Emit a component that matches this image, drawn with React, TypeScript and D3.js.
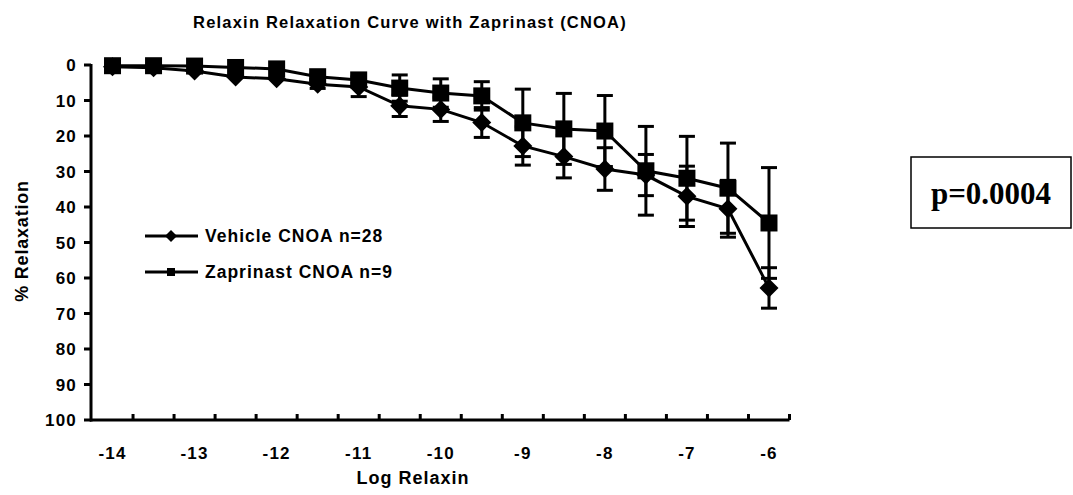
import React from "react";
import * as d3 from "d3";

const logDoses = [-14, -13.5, -13, -12.5, -12, -11.5, -11, -10.5, -10, -9.5, -9, -8.5, -8, -7.5, -7, -6.5, -6];
const xTickLabels = ["-14", "-13", "-12", "-11", "-10", "-9", "-8", "-7", "-6"];
const yTicks = [0, 10, 20, 30, 40, 50, 60, 70, 80, 90, 100];

const vehicleMean = [0.5, 0.8, 1.7, 3.4, 3.9, 5.4, 6.2, 11.5, 12.5, 16.2, 22.8, 25.8, 29.3, 31, 37, 40.5, 62.8];
const vehicleErr = [0, 0, 0, 0, 0, 1.2, 2.7, 3.0, 3.4, 4.2, 5.4, 6.0, 6.0, 5.8, 8.5, 8.0, 5.7];
const zapMean = [0.2, 0.2, 0.3, 0.7, 1.1, 3.3, 4.2, 6.5, 7.9, 8.7, 16.3, 18, 18.6, 29.8, 31.9, 34.7, 44.5];
const zapErr = [0, 0, 0, 0, 0, 0.8, 1.0, 3.7, 4.0, 4.0, 9.5, 10.0, 10.0, 12.5, 11.8, 12.7, 15.6];

const seriesNames = ["Vehicle CNOA n=28", "Zaprinast CNOA n=9"];
const pLabel = "p=0.0004";

const W = 1073;
const H = 495;
const FONT = "'Liberation Sans', Arial, Helvetica, sans-serif";

export default function App() {
  const x = d3.scaleBand<number>().domain(logDoses).range([92, 789.5]).padding(0);
  const y = d3.scaleLinear().domain([0, 100]).range([65, 420]);
  const cx = (d: number) => (x(d) as number) + x.bandwidth() / 2;

  const line = d3
    .line<number>()
    .x((_, i) => cx(logDoses[i]))
    .y((v) => y(v));

  const diamond = (s: number) => `M0,${-s}L${s},0L0,${s}L${-s},0Z`;

  const boundaries = logDoses.map((d) => (x(d) as number) + x.bandwidth());

  const errBars = (means: number[], errs: number[], key: string) =>
    means.map((m, i) =>
      errs[i] > 0 ? (
        <g key={key + i} stroke="#000" strokeWidth={3}>
          <line x1={cx(logDoses[i])} x2={cx(logDoses[i])} y1={y(m - errs[i])} y2={y(m + errs[i])} />
          <line x1={cx(logDoses[i]) - 8} x2={cx(logDoses[i]) + 8} y1={y(m - errs[i])} y2={y(m - errs[i])} />
          <line x1={cx(logDoses[i]) - 8} x2={cx(logDoses[i]) + 8} y1={y(m + errs[i])} y2={y(m + errs[i])} />
        </g>
      ) : null
    );

  return (
    <svg width={W} height={H} style={{ position: "absolute", left: 0, top: 0, background: "#fff" }}>
      <rect width={W} height={H} fill="#fff" />
      <text x={410} y={28} textAnchor="middle" fontFamily={FONT} fontWeight="bold" fontSize={16.5} letterSpacing={1.2}>
        Relaxin Relaxation Curve with Zaprinast (CNOA)
      </text>

      {/* axes */}
      <line x1={91} x2={91} y1={y(0) - 1} y2={y(100) + 1.5} stroke="#000" strokeWidth={3} />
      <line x1={90} x2={789.5} y1={y(100)} y2={y(100)} stroke="#000" strokeWidth={3} />
      {yTicks.map((t) => (
        <g key={"yt" + t}>
          <line x1={84} x2={91} y1={y(t)} y2={y(t)} stroke="#000" strokeWidth={3} />
          <text x={77} y={y(t)} dy="0.36em" textAnchor="end" fontFamily={FONT} fontWeight="bold" fontSize={17} letterSpacing={1.2}>
            {t}
          </text>
        </g>
      ))}
      {boundaries.map((b, i) => (
        <line key={"xt" + i} x1={b} x2={b} y1={y(100)} y2={y(100) - 6} stroke="#000" strokeWidth={3} />
      ))}
      {xTickLabels.map((l) => (
        <text key={"xl" + l} x={cx(+l)} y={459} textAnchor="middle" fontFamily={FONT} fontWeight="bold" fontSize={17} letterSpacing={1.2}>
          {l}
        </text>
      ))}
      <text x={413} y={484} textAnchor="middle" fontFamily={FONT} fontWeight="bold" fontSize={18} letterSpacing={1}>
        Log Relaxin
      </text>
      <text transform={`translate(28,${241}) rotate(-90)`} textAnchor="middle" fontFamily={FONT} fontWeight="bold" fontSize={18} letterSpacing={0.8}>
        % Relaxation
      </text>

      {/* series lines */}
      <path d={line(vehicleMean) || ""} fill="none" stroke="#000" strokeWidth={3} />
      <path d={line(zapMean) || ""} fill="none" stroke="#000" strokeWidth={3} />
      {errBars(vehicleMean, vehicleErr, "ve")}
      {errBars(zapMean, zapErr, "ze")}
      {vehicleMean.map((m, i) => (
        <path key={"vm" + i} d={diamond(9.5)} transform={`translate(${cx(logDoses[i])},${y(m)})`} fill="#000" />
      ))}
      {zapMean.map((m, i) => (
        <rect key={"zm" + i} x={cx(logDoses[i]) - 8.5} y={y(m) - 8.5} width={17} height={17} fill="#000" />
      ))}

      {/* legend */}
      <g>
        <line x1={145} x2={198} y1={236} y2={236} stroke="#000" strokeWidth={3} />
        <path d={diamond(6)} transform="translate(171,236)" fill="#000" />
        <text x={205} y={236} dy="0.36em" fontFamily={FONT} fontWeight="bold" fontSize={17.5} letterSpacing={1}>
          {seriesNames[0]}
        </text>
        <line x1={145} x2={198} y1={272} y2={272} stroke="#000" strokeWidth={3} />
        <rect x={167} y={268} width={8} height={8} fill="#000" />
        <text x={205} y={272} dy="0.36em" fontFamily={FONT} fontWeight="bold" fontSize={17.5} letterSpacing={1}>
          {seriesNames[1]}
        </text>
      </g>

      {/* p-value box */}
      <rect x={911} y={157} width={160} height={71} fill="#fff" stroke="#000" strokeWidth={1.5} />
      <text x={991} y={193} dy="0.35em" textAnchor="middle" fontFamily="'Liberation Serif', 'Times New Roman', serif" fontWeight="bold" fontSize={31}>
        {pLabel}
      </text>
    </svg>
  );
}
